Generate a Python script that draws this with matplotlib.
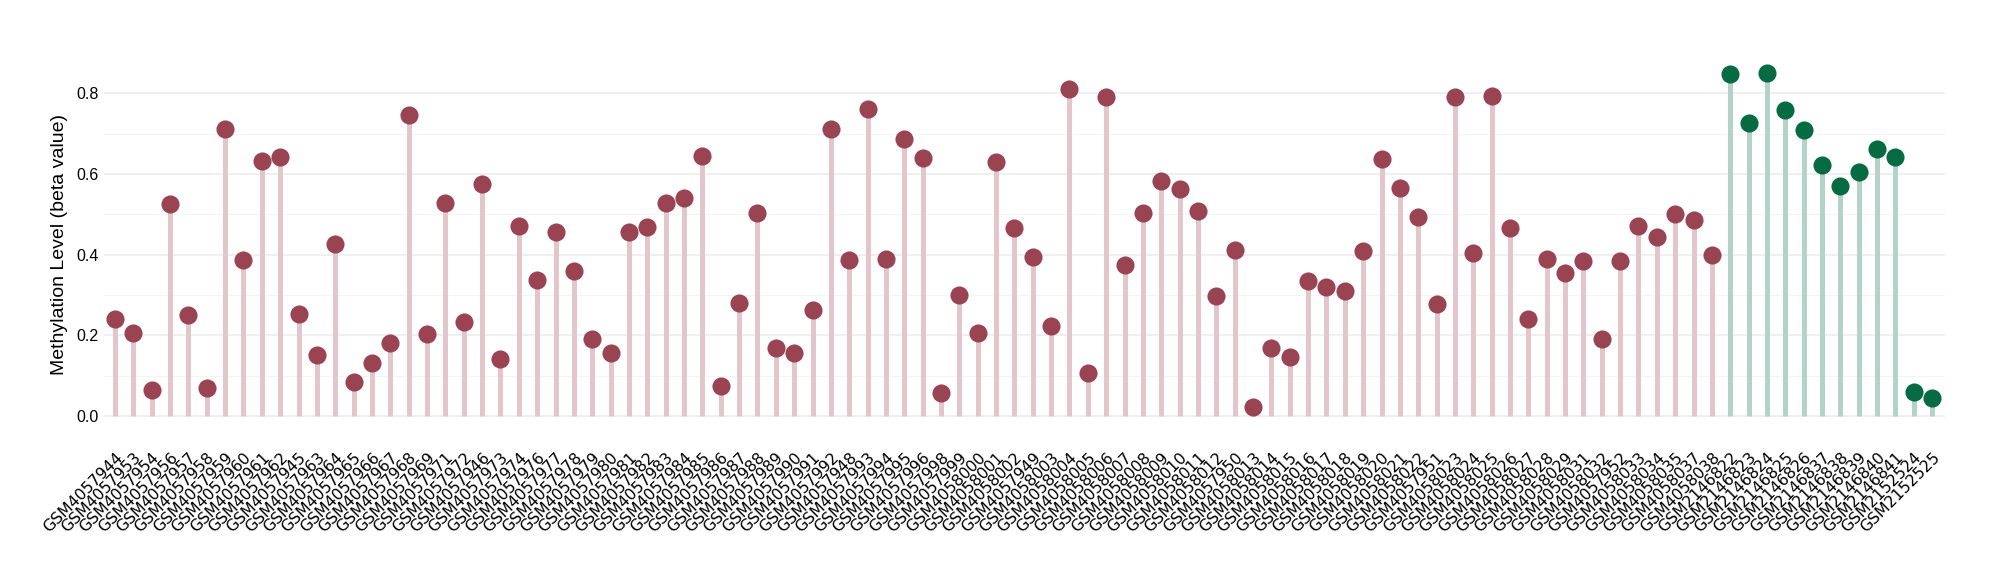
import matplotlib.pyplot as plt
import numpy as np

# sample ids in plotting order
samples = [
    'GSM4057944', 'GSM4057953', 'GSM4057954', 'GSM4057956', 'GSM4057957',
    'GSM4057958', 'GSM4057959', 'GSM4057960', 'GSM4057961', 'GSM4057962',
    'GSM4057945', 'GSM4057963', 'GSM4057964', 'GSM4057965', 'GSM4057966',
    'GSM4057967', 'GSM4057968', 'GSM4057969', 'GSM4057971', 'GSM4057972',
    'GSM4057946', 'GSM4057973', 'GSM4057974', 'GSM4057976', 'GSM4057977',
    'GSM4057978', 'GSM4057979', 'GSM4057980', 'GSM4057981', 'GSM4057982',
    'GSM4057983', 'GSM4057984', 'GSM4057985', 'GSM4057986', 'GSM4057987',
    'GSM4057988', 'GSM4057989', 'GSM4057990', 'GSM4057991', 'GSM4057992',
    'GSM4057948', 'GSM4057993', 'GSM4057994', 'GSM4057995', 'GSM4057996',
    'GSM4057998', 'GSM4057999', 'GSM4058000', 'GSM4058001', 'GSM4058002',
    'GSM4057949', 'GSM4058003', 'GSM4058004', 'GSM4058005', 'GSM4058006',
    'GSM4058007', 'GSM4058008', 'GSM4058009', 'GSM4058010', 'GSM4058011',
    'GSM4058012', 'GSM4057950', 'GSM4058013', 'GSM4058014', 'GSM4058015',
    'GSM4058016', 'GSM4058017', 'GSM4058018', 'GSM4058019', 'GSM4058020',
    'GSM4058021', 'GSM4058022', 'GSM4057951', 'GSM4058023', 'GSM4058024',
    'GSM4058025', 'GSM4058026', 'GSM4058027', 'GSM4058028', 'GSM4058029',
    'GSM4058031', 'GSM4058032', 'GSM4057952', 'GSM4058033', 'GSM4058034',
    'GSM4058035', 'GSM4058037', 'GSM4058038',
    'GSM2146822', 'GSM2146823', 'GSM2146824', 'GSM2146825', 'GSM2146826',
    'GSM2146837', 'GSM2146838', 'GSM2146839', 'GSM2146840', 'GSM2146841',
    'GSM2152524', 'GSM2152525',
]

# beta values
beta = [
    0.240, 0.205, 0.063, 0.525, 0.250, 0.070, 0.712, 0.386, 0.632, 0.642,
    0.253, 0.152, 0.427, 0.085, 0.130, 0.180, 0.746, 0.202, 0.528, 0.234,
    0.575, 0.142, 0.471, 0.338, 0.455, 0.360, 0.190, 0.155, 0.455, 0.468,
    0.528, 0.540, 0.645, 0.073, 0.281, 0.503, 0.168, 0.155, 0.262, 0.712,
    0.386, 0.762, 0.389, 0.686, 0.639, 0.057, 0.300, 0.205, 0.629, 0.465,
    0.395, 0.224, 0.810, 0.107, 0.790, 0.373, 0.503, 0.582, 0.563, 0.509,
    0.297, 0.411, 0.022, 0.168, 0.145, 0.335, 0.320, 0.310, 0.408, 0.638,
    0.566, 0.493, 0.278, 0.790, 0.405, 0.794, 0.465, 0.240, 0.389, 0.354,
    0.383, 0.190, 0.383, 0.471, 0.443, 0.500, 0.487, 0.400,
    0.847, 0.727, 0.850, 0.759, 0.708, 0.623, 0.569, 0.604, 0.661, 0.642,
    0.060, 0.044,
]

# group: 0 = first dataset (red), 1 = second dataset (green)
group = [0] * 88 + [1] * 12

dot_cols = ['#9A4352', '#066B43']
stem_cols = ['#E3C6CC', '#B3D3C6']

x = np.arange(len(samples))
beta = np.array(beta)
group = np.array(group)

fig = plt.figure(figsize=(20, 5.8), dpi=100)
ax = fig.add_axes([0.052, 0.2534, 0.9205, 0.65])

for g in (0, 1):
    m = group == g
    ax.vlines(x[m], 0, beta[m], color=stem_cols[g], linewidth=3.6, zorder=2)
    ax.scatter(x[m], beta[m], s=170, color=dot_cols[g], zorder=3, linewidths=0)

ax.set_xlim(-0.6, len(samples) - 0.3)
ax.set_ylim(-0.0425, 0.8925)
ax.set_yticks([0.0, 0.2, 0.4, 0.6, 0.8])
ax.set_yticklabels(['0.0', '0.2', '0.4', '0.6', '0.8'], family='Liberation Sans', fontsize=11.5)
ax.set_yticks([0.1, 0.3, 0.5, 0.7], minor=True)
ax.grid(axis='y', which='major', color='#EBEBEB', linewidth=1.1, zorder=0)
ax.grid(axis='y', which='minor', color='#F4F4F4', linewidth=0.8, zorder=0)
ax.tick_params(axis='y', which='both', length=0, pad=4)

ax.set_xticks(x)
ax.set_xticklabels(samples, rotation=45, ha='right', rotation_mode='anchor', fontsize=11.3)
ax.tick_params(axis='x', length=0, pad=12)

ax.set_ylabel('Methylation Level (beta value)', family='Liberation Sans', fontsize=14, labelpad=6)

for s in ax.spines.values():
    s.set_visible(False)

fig.savefig('out.png', dpi=100)
